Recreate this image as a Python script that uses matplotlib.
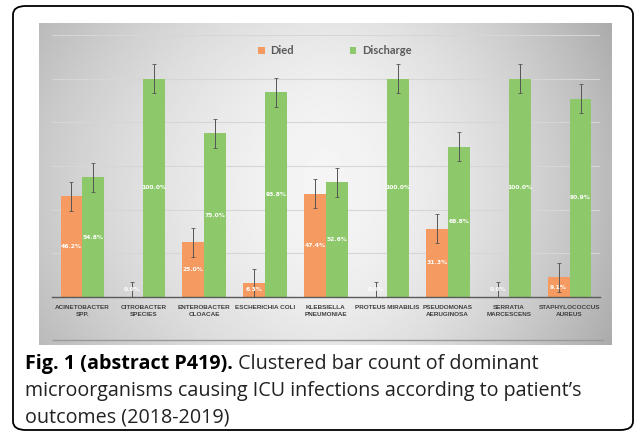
import numpy as np
import matplotlib.pyplot as plt
from matplotlib.patches import FancyBboxPatch

# data
organisms = ["ACINETOBACTER\nSPP.", "CITROBACTER\nSPECIES", "ENTEROBACTER\nCLOACAE",
             "ESCHERICHIA COLI", "KLEBSIELLA\nPNEUMONIAE", "PROTEUS MIRABILIS",
             "PSEUDOMONAS\nAERUGINOSA", "SERRATIA\nMARCESCENS", "STAPHYLOCOCCUS\nAUREUS"]
died = [46.2, 0.0, 25.0, 6.3, 47.4, 0.0, 31.3, 0.0, 9.1]
discharge = [54.8, 100.0, 75.0, 93.8, 52.6, 100.0, 68.8, 100.0, 90.9]
err = [6.7] * 9

W, H = 637, 433
fig = plt.figure(figsize=(W / 100, H / 100), dpi=100)
fig.patch.set_facecolor("white")

# %% outer rounded frame
frame = FancyBboxPatch((13 / W, 3 / H), 620 / W, 424 / H,
                       boxstyle="round,pad=0,rounding_size=0.02",
                       transform=fig.transFigure, fill=False, ec="black", lw=1.3)
fig.patches.append(frame)

# %% grey gradient background of the pasted chart
bg = fig.add_axes([39 / W, 1 - 345 / H, 573 / W, 322 / H])
xx, yy = np.meshgrid(np.linspace(-1, 1, 300), np.linspace(-1, 1, 200))
shade = 0.96 - 0.17 * np.abs(xx) ** 1.6 - 0.06 * np.abs(yy) ** 2
shade -= 0.06 * np.clip(xx, 0, None) ** 2
bg.imshow(shade, cmap="gray", vmin=0, vmax=1, aspect="auto", extent=[0, 1, 0, 1])
bg.plot([0.025, 0.985], [0.015, 0.015], color="#9a9a9a", lw=1)
bg.set_xlim(0, 1)
bg.set_ylim(0, 1)
bg.axis("off")

# %% bar chart
ax = fig.add_axes([52 / W, 1 - 297 / H, 548 / W, 262 / H])
ax.patch.set_alpha(0)
x = np.arange(len(organisms))
bw = 0.36
orange = "#F59A60"
green = "#8DC86A"
ax.bar(x - bw / 2, died, bw, color=orange, label="Died", zorder=2)
ax.bar(x + bw / 2, discharge, bw, color=green, label="Discharge", zorder=2)
ax.errorbar(x - bw / 2, died, yerr=err, fmt="none", ecolor="#555555", elinewidth=0.7,
            capsize=1.2, capthick=0.6, zorder=3)
ax.errorbar(x + bw / 2, discharge, yerr=err, fmt="none", ecolor="#555555", elinewidth=0.7,
            capsize=1.2, capthick=0.6, zorder=3)

for i in range(len(organisms)):
    for xpos, v in [(x[i] - bw / 2, died[i]), (x[i] + bw / 2, discharge[i])]:
        ax.text(xpos, max(v / 2, 3.6), f"{v:.1f}%", ha="center", va="center",
                fontsize=4.3, color="white", fontweight="bold", zorder=4)

ax.set_xlim(-0.5, len(organisms) - 0.5)
ax.set_ylim(0, 120)
ax.set_yticks([20, 40, 60, 80, 100, 120])
ax.yaxis.grid(True, color="#d6d6d6", lw=0.8, zorder=0)
ax.tick_params(left=False, labelleft=False, bottom=False, labelbottom=False)
for s in ["top", "right", "left"]:
    ax.spines[s].set_visible(False)
ax.spines["bottom"].set_color("#5a5a5a")
ax.spines["bottom"].set_linewidth(1.0)

for i, name in enumerate(organisms):
    ax.text(x[i], -3.8, name, ha="center", va="top", fontsize=4.6, color="#404040",
            fontweight="bold", family="Liberation Sans", linespacing=1.45, clip_on=False)

leg = ax.legend(loc="center", bbox_to_anchor=(0.516, 0.939), ncol=2, frameon=False,
                prop={"family": "Lato", "weight": "bold", "size": 8},
                handlelength=0.6, handleheight=0.6, columnspacing=5.0,
                handletextpad=0.5)
for t in leg.get_texts():
    t.set_color("#595959")

# %% caption
cap_bold = "Fig. 1 (abstract P419)."
cap_lines = [" Clustered bar count of dominant",
             "microorganisms causing ICU infections according to patient\u2019s",
             "outcomes (2018-2019)"]
fs = 14.2
t1 = fig.text(25 / W, 1 - 369 / H, cap_bold, fontsize=fs, family="Open Sans",
              fontweight="bold", va="baseline", color="black")
fig.canvas.draw()
bb = t1.get_window_extent()
fig.text(bb.x1 / W, 1 - 369 / H, cap_lines[0], fontsize=fs, family="Open Sans",
         va="baseline", color="#222222")
fig.text(25 / W, 1 - 396 / H, cap_lines[1], fontsize=fs, family="Open Sans",
         va="baseline", color="#222222")
fig.text(25 / W, 1 - 422 / H, cap_lines[2], fontsize=fs, family="Open Sans",
         va="baseline", color="#222222")

fig.savefig("out.png", dpi=100)
plt.close()
